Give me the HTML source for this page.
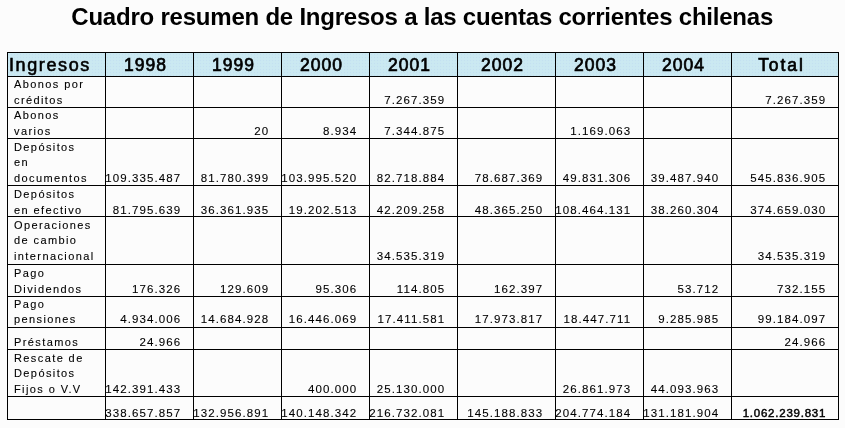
<!DOCTYPE html>
<html><head><meta charset="utf-8"><style>
html,body{margin:0;padding:0;background:#fcfcfc;}
#c{position:relative;width:845px;height:428px;overflow:hidden;background:#fcfcfc;font-family:"Liberation Sans",Arial,sans-serif;color:#000;}
#c div{position:absolute;white-space:nowrap;}
.v{width:1px;background:#000;}
.h{height:1px;background:#000;}
.t{font-weight:bold;}
.hd{font-weight:normal;text-align:center;-webkit-text-stroke:0.7px #000;}
.t{-webkit-text-stroke:0px #000;font-weight:bold !important;}
.ing{-webkit-text-stroke:0.6px #000;}
.lb,.n{-webkit-text-stroke:0.1px #000;word-spacing:0px;}
.lb{}
.n{text-align:right;}
</style></head><body><div id="c">

<div style="left:8px;top:53px;width:830px;height:23px;background-color:#cbe9f1;background-image:radial-gradient(circle at 1.5px 1.5px, rgba(175,195,240,0.22) 0.6px, rgba(175,195,240,0) 1.1px);background-size:3px 3px;background-position:-1px 0"></div>
<div class="v" style="left:7px;top:52px;height:368px"></div>
<div class="v" style="left:105px;top:52px;height:368px"></div>
<div class="v" style="left:193px;top:52px;height:368px"></div>
<div class="v" style="left:281px;top:52px;height:368px"></div>
<div class="v" style="left:369px;top:52px;height:368px"></div>
<div class="v" style="left:457px;top:52px;height:368px"></div>
<div class="v" style="left:555px;top:52px;height:368px"></div>
<div class="v" style="left:643px;top:52px;height:368px"></div>
<div class="v" style="left:731px;top:52px;height:368px"></div>
<div class="v" style="left:838px;top:52px;height:368px"></div>
<div class="h" style="left:7px;top:52px;width:832px"></div>
<div class="h" style="left:7px;top:76px;width:832px"></div>
<div class="h" style="left:7px;top:107px;width:832px"></div>
<div class="h" style="left:7px;top:138px;width:832px"></div>
<div class="h" style="left:7px;top:185px;width:832px"></div>
<div class="h" style="left:7px;top:216px;width:832px"></div>
<div class="h" style="left:7px;top:264px;width:832px"></div>
<div class="h" style="left:7px;top:296px;width:832px"></div>
<div class="h" style="left:7px;top:327px;width:832px"></div>
<div class="h" style="left:7px;top:349px;width:832px"></div>
<div class="h" style="left:7px;top:396px;width:832px"></div>
<div class="h" style="left:7px;top:419px;width:832px"></div>
<div class="t" style="left:0;width:844.4px;text-align:center;top:3.28px;font-size:24px;line-height:28.80px;letter-spacing:-0.22px">Cuadro resumen de Ingresos a las cuentas corrientes chilenas</div>
<div class="ing" style="left:9px;top:54.96px;font-size:18px;line-height:21.60px;letter-spacing:1.6px">Ingresos</div>
<div class="hd" style="left:45.00px;width:200px;top:55.44px;font-size:17.5px;line-height:21.00px;letter-spacing:1.05px;text-indent:1.05px">1998</div>
<div class="hd" style="left:133.00px;width:200px;top:55.44px;font-size:17.5px;line-height:21.00px;letter-spacing:1.05px;text-indent:1.05px">1999</div>
<div class="hd" style="left:221.00px;width:200px;top:55.44px;font-size:17.5px;line-height:21.00px;letter-spacing:1.05px;text-indent:1.05px">2000</div>
<div class="hd" style="left:309.00px;width:200px;top:55.44px;font-size:17.5px;line-height:21.00px;letter-spacing:1.05px;text-indent:1.05px">2001</div>
<div class="hd" style="left:402.00px;width:200px;top:55.44px;font-size:17.5px;line-height:21.00px;letter-spacing:1.05px;text-indent:1.05px">2002</div>
<div class="hd" style="left:495.00px;width:200px;top:55.44px;font-size:17.5px;line-height:21.00px;letter-spacing:1.05px;text-indent:1.05px">2003</div>
<div class="hd" style="left:583.00px;width:200px;top:55.44px;font-size:17.5px;line-height:21.00px;letter-spacing:1.05px;text-indent:1.05px">2004</div>
<div class="hd" style="left:680.50px;width:200px;top:55.44px;font-size:17.5px;line-height:21.00px;letter-spacing:1.9px;text-indent:1.9px">Total</div>
<div class="lb" style="left:14px;top:78.19px;font-size:11px;line-height:13.20px;letter-spacing:1.4px">Abonos por</div>
<div class="lb" style="left:14px;top:93.59px;font-size:11px;line-height:13.20px;letter-spacing:1.4px">créditos</div>
<div class="n" style="right:399.80px;top:93.72px;font-size:11.5px;line-height:13.80px;letter-spacing:1.1px">7.267.359</div>
<div class="n" style="right:18.80px;top:93.72px;font-size:11.5px;line-height:13.80px;letter-spacing:1.1px">7.267.359</div>
<div class="lb" style="left:14px;top:109.19px;font-size:11px;line-height:13.20px;letter-spacing:1.4px">Abonos</div>
<div class="lb" style="left:14px;top:124.59px;font-size:11px;line-height:13.20px;letter-spacing:1.4px">varios</div>
<div class="n" style="right:575.80px;top:124.72px;font-size:11.5px;line-height:13.80px;letter-spacing:1.1px">20</div>
<div class="n" style="right:487.80px;top:124.72px;font-size:11.5px;line-height:13.80px;letter-spacing:1.1px">8.934</div>
<div class="n" style="right:399.80px;top:124.72px;font-size:11.5px;line-height:13.80px;letter-spacing:1.1px">7.344.875</div>
<div class="n" style="right:213.80px;top:124.72px;font-size:11.5px;line-height:13.80px;letter-spacing:1.1px">1.169.063</div>
<div class="lb" style="left:14px;top:140.79px;font-size:11px;line-height:13.20px;letter-spacing:1.4px">Depósitos</div>
<div class="lb" style="left:14px;top:156.19px;font-size:11px;line-height:13.20px;letter-spacing:1.4px">en</div>
<div class="lb" style="left:14px;top:171.59px;font-size:11px;line-height:13.20px;letter-spacing:1.4px">documentos</div>
<div class="n" style="right:663.80px;top:171.72px;font-size:11.5px;line-height:13.80px;letter-spacing:1.1px">109.335.487</div>
<div class="n" style="right:575.80px;top:171.72px;font-size:11.5px;line-height:13.80px;letter-spacing:1.1px">81.780.399</div>
<div class="n" style="right:487.80px;top:171.72px;font-size:11.5px;line-height:13.80px;letter-spacing:1.1px">103.995.520</div>
<div class="n" style="right:399.80px;top:171.72px;font-size:11.5px;line-height:13.80px;letter-spacing:1.1px">82.718.884</div>
<div class="n" style="right:301.80px;top:171.72px;font-size:11.5px;line-height:13.80px;letter-spacing:1.1px">78.687.369</div>
<div class="n" style="right:213.80px;top:171.72px;font-size:11.5px;line-height:13.80px;letter-spacing:1.1px">49.831.306</div>
<div class="n" style="right:125.80px;top:171.72px;font-size:11.5px;line-height:13.80px;letter-spacing:1.1px">39.487.940</div>
<div class="n" style="right:18.80px;top:171.72px;font-size:11.5px;line-height:13.80px;letter-spacing:1.1px">545.836.905</div>
<div class="lb" style="left:14px;top:188.19px;font-size:11px;line-height:13.20px;letter-spacing:1.4px">Depósitos</div>
<div class="lb" style="left:14px;top:203.59px;font-size:11px;line-height:13.20px;letter-spacing:1.4px">en efectivo</div>
<div class="n" style="right:663.80px;top:203.72px;font-size:11.5px;line-height:13.80px;letter-spacing:1.1px">81.795.639</div>
<div class="n" style="right:575.80px;top:203.72px;font-size:11.5px;line-height:13.80px;letter-spacing:1.1px">36.361.935</div>
<div class="n" style="right:487.80px;top:203.72px;font-size:11.5px;line-height:13.80px;letter-spacing:1.1px">19.202.513</div>
<div class="n" style="right:399.80px;top:203.72px;font-size:11.5px;line-height:13.80px;letter-spacing:1.1px">42.209.258</div>
<div class="n" style="right:301.80px;top:203.72px;font-size:11.5px;line-height:13.80px;letter-spacing:1.1px">48.365.250</div>
<div class="n" style="right:213.80px;top:203.72px;font-size:11.5px;line-height:13.80px;letter-spacing:1.1px">108.464.131</div>
<div class="n" style="right:125.80px;top:203.72px;font-size:11.5px;line-height:13.80px;letter-spacing:1.1px">38.260.304</div>
<div class="n" style="right:18.80px;top:203.72px;font-size:11.5px;line-height:13.80px;letter-spacing:1.1px">374.659.030</div>
<div class="lb" style="left:14px;top:218.79px;font-size:11px;line-height:13.20px;letter-spacing:1.4px">Operaciones</div>
<div class="lb" style="left:14px;top:234.19px;font-size:11px;line-height:13.20px;letter-spacing:1.4px">de cambio</div>
<div class="lb" style="left:14px;top:249.59px;font-size:11px;line-height:13.20px;letter-spacing:1.4px">internacional</div>
<div class="n" style="right:399.80px;top:249.72px;font-size:11.5px;line-height:13.80px;letter-spacing:1.1px">34.535.319</div>
<div class="n" style="right:18.80px;top:249.72px;font-size:11.5px;line-height:13.80px;letter-spacing:1.1px">34.535.319</div>
<div class="lb" style="left:14px;top:267.19px;font-size:11px;line-height:13.20px;letter-spacing:1.4px">Pago</div>
<div class="lb" style="left:14px;top:282.59px;font-size:11px;line-height:13.20px;letter-spacing:1.4px">Dividendos</div>
<div class="n" style="right:663.80px;top:282.72px;font-size:11.5px;line-height:13.80px;letter-spacing:1.1px">176.326</div>
<div class="n" style="right:575.80px;top:282.72px;font-size:11.5px;line-height:13.80px;letter-spacing:1.1px">129.609</div>
<div class="n" style="right:487.80px;top:282.72px;font-size:11.5px;line-height:13.80px;letter-spacing:1.1px">95.306</div>
<div class="n" style="right:399.80px;top:282.72px;font-size:11.5px;line-height:13.80px;letter-spacing:1.1px">114.805</div>
<div class="n" style="right:301.80px;top:282.72px;font-size:11.5px;line-height:13.80px;letter-spacing:1.1px">162.397</div>
<div class="n" style="right:125.80px;top:282.72px;font-size:11.5px;line-height:13.80px;letter-spacing:1.1px">53.712</div>
<div class="n" style="right:18.80px;top:282.72px;font-size:11.5px;line-height:13.80px;letter-spacing:1.1px">732.155</div>
<div class="lb" style="left:14px;top:297.89px;font-size:11px;line-height:13.20px;letter-spacing:1.4px">Pago</div>
<div class="lb" style="left:14px;top:313.29px;font-size:11px;line-height:13.20px;letter-spacing:1.4px">pensiones</div>
<div class="n" style="right:663.80px;top:313.42px;font-size:11.5px;line-height:13.80px;letter-spacing:1.1px">4.934.006</div>
<div class="n" style="right:575.80px;top:313.42px;font-size:11.5px;line-height:13.80px;letter-spacing:1.1px">14.684.928</div>
<div class="n" style="right:487.80px;top:313.42px;font-size:11.5px;line-height:13.80px;letter-spacing:1.1px">16.446.069</div>
<div class="n" style="right:399.80px;top:313.42px;font-size:11.5px;line-height:13.80px;letter-spacing:1.1px">17.411.581</div>
<div class="n" style="right:301.80px;top:313.42px;font-size:11.5px;line-height:13.80px;letter-spacing:1.1px">17.973.817</div>
<div class="n" style="right:213.80px;top:313.42px;font-size:11.5px;line-height:13.80px;letter-spacing:1.1px">18.447.711</div>
<div class="n" style="right:125.80px;top:313.42px;font-size:11.5px;line-height:13.80px;letter-spacing:1.1px">9.285.985</div>
<div class="n" style="right:18.80px;top:313.42px;font-size:11.5px;line-height:13.80px;letter-spacing:1.1px">99.184.097</div>
<div class="lb" style="left:14px;top:335.59px;font-size:11px;line-height:13.20px;letter-spacing:1.4px">Préstamos</div>
<div class="n" style="right:663.80px;top:335.72px;font-size:11.5px;line-height:13.80px;letter-spacing:1.1px">24.966</div>
<div class="n" style="right:18.80px;top:335.72px;font-size:11.5px;line-height:13.80px;letter-spacing:1.1px">24.966</div>
<div class="lb" style="left:14px;top:352.09px;font-size:11px;line-height:13.20px;letter-spacing:1.4px">Rescate de</div>
<div class="lb" style="left:14px;top:367.49px;font-size:11px;line-height:13.20px;letter-spacing:1.4px">Depósitos</div>
<div class="lb" style="left:14px;top:382.89px;font-size:11px;line-height:13.20px;letter-spacing:1.4px">Fijos o V.V</div>
<div class="n" style="right:663.80px;top:383.02px;font-size:11.5px;line-height:13.80px;letter-spacing:1.1px">142.391.433</div>
<div class="n" style="right:487.80px;top:383.02px;font-size:11.5px;line-height:13.80px;letter-spacing:1.1px">400.000</div>
<div class="n" style="right:399.80px;top:383.02px;font-size:11.5px;line-height:13.80px;letter-spacing:1.1px">25.130.000</div>
<div class="n" style="right:213.80px;top:383.02px;font-size:11.5px;line-height:13.80px;letter-spacing:1.1px">26.861.973</div>
<div class="n" style="right:125.80px;top:383.02px;font-size:11.5px;line-height:13.80px;letter-spacing:1.1px">44.093.963</div>
<div class="n" style="right:663.80px;top:407.22px;font-size:11.5px;line-height:13.80px;letter-spacing:1.1px">338.657.857</div>
<div class="n" style="right:575.80px;top:407.22px;font-size:11.5px;line-height:13.80px;letter-spacing:1.1px">132.956.891</div>
<div class="n" style="right:487.80px;top:407.22px;font-size:11.5px;line-height:13.80px;letter-spacing:1.1px">140.148.342</div>
<div class="n" style="right:399.80px;top:407.22px;font-size:11.5px;line-height:13.80px;letter-spacing:1.1px">216.732.081</div>
<div class="n" style="right:301.80px;top:407.22px;font-size:11.5px;line-height:13.80px;letter-spacing:1.1px">145.188.833</div>
<div class="n" style="right:213.80px;top:407.22px;font-size:11.5px;line-height:13.80px;letter-spacing:1.1px">204.774.184</div>
<div class="n" style="right:125.80px;top:407.22px;font-size:11.5px;line-height:13.80px;letter-spacing:1.1px">131.181.904</div>
<div class="n" style="font-weight:normal;-webkit-text-stroke:0.45px #000;letter-spacing:0.77px !important;right:18.80px;top:407.22px;font-size:11.5px;line-height:13.80px;letter-spacing:1.1px">1.062.239.831</div>
</div></body></html>
